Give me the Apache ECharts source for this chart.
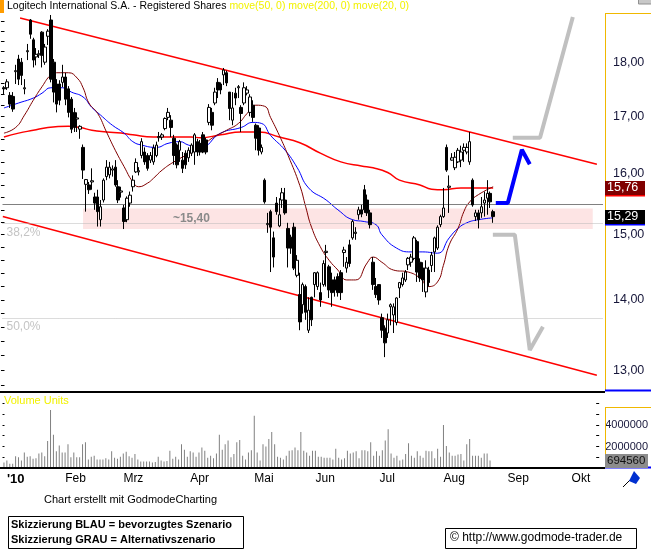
<!DOCTYPE html>
<html>
<head>
<meta charset="utf-8">
<script src="https://cdn.jsdelivr.net/npm/echarts@6/dist/echarts.min.js"></script>
<style>
html, body { margin: 0; padding: 0; background: #fff; }
#chart { width: 651px; height: 557px; }
</style>
</head>
<body>
<div id="chart"></div>
<script>
// daily candles, Logitech 2010
const opens = [
  17.52,17.52,17.38,17.36,17.82,18.06,18.00,17.50,18.20,18.82,
  18.43,18.10,18.14,18.58,18.00,18.50,18.82,18.00,17.59,17.59,
  17.62,17.72,17.50,17.31,17.07,16.95,16.77,16.45,15.82,15.81,
  15.86,15.61,15.61,15.24,15.56,15.95,15.98,16.06,16.11,15.78,
  15.69,15.43,15.24,15.51,15.78,16.03,16.03,16.31,16.37,16.31,
  16.23,16.20,16.31,16.62,16.63,16.78,16.98,16.93,16.61,16.49,
  16.40,16.23,16.35,16.27,16.35,16.37,16.55,16.52,16.67,16.58,
  16.89,17.07,17.24,17.62,17.59,17.76,17.80,17.44,16.93,17.42,
  17.52,17.16,17.24,17.42,17.07,17.20,16.84,16.79,16.37,15.89,
  15.16,15.37,14.95,15.51,15.14,15.56,15.56,15.10,14.96,15.12,
  14.37,14.08,13.93,14.20,13.56,14.04,14.23,14.20,14.11,14.23,
  14.72,14.50,14.30,14.30,14.35,14.41,14.72,14.48,14.84,14.95,
  15.02,15.32,15.40,15.73,15.56,15.35,14.57,14.20,14.23,13.74,
  13.59,13.52,13.90,13.78,13.67,14.18,14.23,14.30,14.53,14.57,
  14.63,14.89,14.57,14.48,14.12,14.45,14.52,14.73,14.79,15.16,
  15.29,16.45,15.77,16.23,16.10,16.20,16.23,16.40,16.37,16.20,
  15.89,15.29,15.35,15.35,15.51,15.59,15.67,15.37
];
const closes = [
  17.50,17.63,17.22,17.13,17.84,17.68,17.75,17.52,18.22,18.54,
  18.04,18.15,18.16,18.13,18.29,18.60,17.68,17.44,17.22,17.29,
  17.72,17.31,17.07,16.77,16.80,16.97,16.82,16.06,15.90,15.73,
  15.88,15.51,15.37,15.45,15.89,16.11,16.11,16.08,15.81,15.56,
  15.71,15.21,15.59,15.64,15.89,16.19,16.05,16.55,16.20,16.09,
  16.31,16.44,16.49,16.64,16.67,16.96,17.07,16.80,16.31,16.15,
  16.55,16.09,16.15,16.40,16.49,16.67,16.37,16.37,16.37,16.37,
  17.16,16.84,17.44,17.48,17.48,17.85,17.61,17.14,17.15,17.33,
  17.54,17.05,17.52,17.48,17.35,16.98,16.61,16.40,16.45,15.53,
  15.18,15.12,14.65,15.37,15.32,15.68,15.35,14.79,14.79,14.48,
  14.60,13.68,14.23,13.82,13.85,13.71,14.41,14.41,14.00,14.55,
  14.74,14.15,14.11,14.15,14.11,14.11,14.76,14.57,14.55,15.21,
  15.04,15.40,15.33,15.40,15.35,15.16,14.23,14.08,14.00,13.56,
  13.38,13.71,13.93,13.90,14.03,14.26,14.33,14.42,14.63,14.65,
  14.95,14.42,14.33,14.30,14.48,14.26,14.68,14.95,15.12,15.29,
  15.43,16.06,15.79,16.27,16.28,16.40,16.37,16.45,16.45,16.55,
  15.48,15.35,15.24,15.45,15.56,15.67,15.53,15.29
];
const highs = [
  17.55,17.68,17.44,17.44,17.95,18.14,18.08,17.68,18.35,18.84,
  18.47,18.27,18.23,18.60,18.35,18.64,18.92,18.06,17.68,17.66,
  17.95,17.80,17.55,17.35,17.15,17.07,16.84,16.50,15.91,15.86,
  16.09,15.68,15.73,15.56,15.92,16.23,16.20,16.14,16.23,15.89,
  15.78,15.48,15.62,15.70,15.97,16.26,16.11,16.61,16.45,16.35,
  16.37,16.50,16.55,16.72,16.70,16.98,17.15,17.02,16.67,16.52,
  16.58,16.37,16.40,16.45,16.52,16.70,16.60,16.58,16.72,16.62,
  17.22,17.15,17.52,17.70,17.62,17.89,17.84,17.44,17.44,17.52,
  17.57,17.20,17.62,17.55,17.40,17.29,16.87,16.84,16.50,15.92,
  15.35,15.40,15.05,15.61,15.59,15.76,15.76,15.19,15.00,15.19,
  14.68,14.41,14.26,14.23,14.04,14.05,14.42,14.43,14.26,14.60,
  14.84,14.53,14.41,14.35,14.40,14.45,14.81,14.65,14.92,15.24,
  15.12,15.45,15.48,15.81,15.65,15.40,14.65,14.33,14.23,13.80,
  13.63,13.80,13.95,13.95,14.04,14.27,14.41,14.45,14.65,14.70,
  14.98,14.92,14.63,14.57,14.60,14.50,14.73,14.97,15.15,15.32,
  15.76,16.50,15.97,16.35,16.37,16.44,16.48,16.52,16.52,16.72,
  15.92,15.40,15.40,15.61,15.70,15.89,15.70,15.40
];
const lows = [
  17.40,17.48,17.15,17.08,17.59,17.57,17.57,17.40,18.04,18.45,
  17.90,17.94,18.08,17.90,17.95,18.33,17.62,17.25,17.07,17.20,
  17.53,17.20,16.98,16.70,16.72,16.72,16.60,15.91,15.37,15.66,
  15.73,15.40,15.13,15.13,15.52,15.89,15.92,15.95,15.78,15.51,
  15.60,15.09,15.20,15.45,15.70,16.01,15.97,16.26,16.15,16.05,
  16.18,16.15,16.28,16.55,16.58,16.75,16.93,16.63,16.15,16.09,
  16.20,16.01,16.08,16.20,16.30,16.15,16.30,16.31,16.35,16.33,
  16.84,16.75,17.20,17.33,17.40,17.57,17.55,16.93,16.84,17.20,
  17.33,16.72,17.20,17.38,17.00,16.90,16.40,16.31,16.33,15.50,
  15.03,14.42,14.49,15.32,15.12,15.43,15.32,14.49,14.70,14.45,
  14.34,13.56,13.80,13.71,13.52,13.62,14.04,14.15,13.90,14.20,
  14.20,14.03,13.90,14.05,14.05,14.00,14.50,14.41,14.50,14.92,
  14.92,15.24,15.28,15.35,15.30,15.10,14.15,14.03,13.93,13.45,
  13.18,13.45,13.63,13.52,13.63,14.03,14.20,14.27,14.45,14.50,
  14.60,14.27,14.27,14.12,14.04,14.20,14.42,14.42,14.76,15.12,
  15.27,16.03,15.35,16.22,16.06,16.18,16.11,16.20,16.33,16.15,
  15.45,15.22,15.10,15.27,15.29,15.32,15.43,15.19
];
// volume in millions of units
const volumesMio = [
  0.5,0.7,0.4,0.4,1.1,1.0,0.7,1.45,1.05,1.1,
  0.85,0.9,1.35,1.45,1.1,2.5,5.4,3.1,1.55,2.1,
  1.45,1.45,2.2,1.0,1.45,1.0,1.0,2.2,2.4,0.8,
  1.05,1.15,0.8,0.8,0.8,0.9,0.8,1.55,0.95,0.85,
  1.05,1.35,1.5,1.1,0.95,1.3,0.8,0.6,0.6,0.6,
  0.6,0.5,0.55,1.05,0.7,0.6,0.65,1.6,0.85,1.05,
  0.8,2.2,1.7,1.05,1.55,1.45,1.05,1.45,1.9,1.6,
  0.95,1.15,0.9,1.35,3.1,1.7,2.2,2.55,1.0,1.3,
  2.4,2.6,1.15,0.8,1.45,1.65,4.85,1.45,0.7,2.2,
  2.0,2.7,3.35,2.2,1.05,0.95,0.8,1.15,1.6,1.65,
  1.9,1.65,3.35,1.6,1.45,1.15,1.6,1.6,1.05,1.05,
  0.95,0.95,0.95,0.8,1.8,0.95,0.8,0.9,1.6,1.35,
  1.45,1.55,0.9,1.65,1.65,1.55,2.4,1.15,1.55,1.15,
  1.65,2.55,3.6,1.35,0.95,1.15,0.7,0.8,1.3,2.3,
  1.15,0.95,1.55,1.15,0.95,1.6,1.55,1.55,0.9,1.8,
  1.05,4.0,2.05,1.45,1.15,1.15,1.25,1.3,0.7,2.2,
  2.7,1.15,1.15,1.15,0.95,1.35,1.35,0.69456
];
// moving averages as [day index, price]
const ma20 = [[0,16.70],[4,16.80],[7,17.02],[10,17.29],[13,17.54],[16,17.76],[18,17.80],[22,17.80],[25,17.70],[27,17.52],[29,17.24],[32,17.05],[35,16.72],[38,16.40],[41,16.12],[44,15.86],[46,15.78],[49,15.84],[51,15.92],[54,16.06],[58,16.20],[62,16.31],[67,16.44],[71,16.61],[76,16.75],[80,16.87],[83,17.05],[86,17.20],[89,17.18],[91,16.98],[94,16.66],[97,16.31],[101,15.80],[103,15.45],[105,15.12],[108,14.81],[111,14.60],[114,14.45],[117,14.30],[120,14.30],[124,14.56],[126,14.65],[129,14.57],[133,14.45],[138,14.42],[142,14.33],[145,14.20],[148,14.27],[150,14.52],[152,14.84],[155,15.10],[157,15.37],[159,15.53],[162,15.65],[167,15.78]];
const ma50 = [[0,17.15],[5,17.24],[10,17.33],[13,17.42],[16,17.52],[20,17.52],[23,17.44],[27,17.35],[30,17.16],[33,17.02],[37,16.84],[41,16.70],[44,16.55],[47,16.49],[52,16.45],[56,16.52],[60,16.55],[63,16.49],[67,16.45],[74,16.70],[81,16.80],[85,16.89],[88,16.87],[91,16.66],[96,16.40],[100,16.11],[104,15.76],[110,15.56],[114,15.40],[119,15.24],[123,15.21],[127,15.16],[129,15.00],[134,14.79],[139,14.73],[143,14.73],[148,14.71],[152,14.95],[155,15.10],[158,15.19],[162,15.24],[167,15.27]];
const ma200 = [[0,16.63],[5,16.70],[10,16.75],[15,16.80],[22,16.82],[26,16.80],[30,16.75],[35,16.72],[40,16.70],[44,16.67],[51,16.63],[58,16.63],[64,16.63],[67,16.62],[74,16.67],[81,16.72],[87,16.72],[94,16.63],[101,16.53],[108,16.35],[115,16.20],[122,16.13],[126,16.10],[131,16.02],[135,15.89],[142,15.81],[146,15.74],[150,15.73],[156,15.76],[163,15.76],[167,15.76]];
// drawn lines, [day index, price]
const channelTop = [[5.5,18.86],[202.4,16.16]];
const channelBottom = [[-0.4,15.29],[202.4,12.93]];
const scenarioBlue = [[167.9,15.51],[172,15.51],[176.8,16.41],[179.5,16.16]];
const scenarioGrayUp = [[173.7,16.62],[183,16.62],[194.2,18.88]];
const scenarioGrayDown = [[166.9,15.00],[174.4,15.00],[179.5,13.28],[184,13.61]];
const supportZone = { top: 15.42, bottom: 15.09, from: 27, to: 201, label: '~15,40', labelAt: [64, 15.26] };
const fibLevels = [[15.13, '38,2%'], [13.70, '50,0%']];
const lastMa = 15.76;
const lastClose = 15.29;
// axes
const priceTicks = [13, 14, 15, 16, 17, 18];
const priceMinorTicks = [12.8,13,13.2,13.4,13.6,13.8,14,14.2,14.4,14.6,14.8,15,15.2,15.4,15.6,15.8,16,16.2,16.4,16.6,16.8,17,17.2,17.4,17.6,17.8,18,18.2,18.4,18.6,18.8];
const priceRange = [12.73, 18.94];
const volumeTicks = [2000000, 4000000];
const volumeMinorTicks = [1000000, 2000000, 3000000, 4000000, 5000000, 6000000];
const volumeMax = 6790000;
const monthNames = ["'10", 'Feb', 'Mrz', 'Apr', 'Mai', 'Jun', 'Jul', 'Aug', 'Sep', 'Okt', 'Nov', 'Dez'];

const N = 205;
const days = [];
let d = new Date(Date.UTC(2010, 0, 4));
while (days.length < N) {
    const wd = d.getUTCDay();
    if (wd !== 0 && wd !== 6) days.push(d.toISOString().slice(0, 10));
    d = new Date(d.getTime() + 86400000);
}

const L = Math.log;
const font = 'Arial, "Liberation Sans", sans-serif';
const toLine = arr => arr.map(p => [p[0], L(p[1])]);
const fmtPrice = v => Math.exp(v).toFixed(2).replace('.', ',');

const chart = echarts.init(document.getElementById('chart'));

function lineSeries(data, color, width, extra) {
    return Object.assign({
        type: 'line', xAxisIndex: 1, yAxisIndex: 0, data: toLine(data),
        showSymbol: false, symbol: 'none', silent: true, animation: false,
        lineStyle: { color: color, width: width }, z: 4
    }, extra || {});
}

const option = {
    animation: false,
    backgroundColor: '#fff',
    title: {
        text: '{a|Logitech International S.A. - Registered Shares}{b| move(50, 0) move(200, 0) move(20, 0)}',
        left: 7, top: 1, padding: 0,
        textStyle: {
            fontWeight: 'normal',
            rich: {
                a: { color: '#000', fontSize: 10.5, fontWeight: 'normal', fontFamily: font },
                b: { color: '#f2f200', fontSize: 10.5, fontWeight: 'normal', fontFamily: font }
            }
        }
    },
    grid: [
        { left: 2.5, right: 48, top: 14, height: 376 },
        { left: 2.5, right: 48, top: 395, height: 73 }
    ],
    xAxis: [
        { type: 'category', gridIndex: 0, data: days, axisLine: { show: false }, axisTick: { show: false }, axisLabel: { show: false } },
        { type: 'value', gridIndex: 0, min: -0.5, max: N - 0.5, show: false },
        {
            type: 'category', gridIndex: 1, data: days,
            axisLine: { show: false }, axisTick: { show: false },
            axisLabel: {
                interval: (i, v) => i === 0 || days[i].slice(5, 7) !== days[i - 1].slice(5, 7),
                formatter: v => {
                    const m = +v.slice(5, 7);
                    return m === 1 ? '{b|' + monthNames[0] + '}' : monthNames[m - 1];
                },
                align: 'left', color: '#000', fontSize: 12, fontFamily: font, margin: 5,
                padding: [0, 0, 0, 3],
                rich: { b: { fontWeight: 'bold', fontSize: 13, color: '#000', fontFamily: font } }
            }
        }
    ],
    yAxis: [
        {
            type: 'value', gridIndex: 0, position: 'right',
            min: L(priceRange[0]), max: L(priceRange[1]),
            splitLine: { show: false }, axisLine: { show: false },
            axisTick: { show: true, inside: true, length: 3, customValues: priceMinorTicks.map(L), lineStyle: { color: '#000' } },
            axisLabel: { customValues: priceTicks.map(L), formatter: fmtPrice, color: '#16163a', fontSize: 12.5, fontFamily: font, margin: 10 }
        },
        {
            type: 'value', gridIndex: 0, position: 'left',
            min: L(priceRange[0]), max: L(priceRange[1]),
            splitLine: { show: false }, axisLine: { show: false }, axisLabel: { show: false },
            axisTick: { show: true, inside: true, length: 2, customValues: priceMinorTicks.map(L), lineStyle: { color: '#000' } }
        },
        {
            type: 'value', gridIndex: 1, position: 'right', min: 0, max: volumeMax,
            splitLine: { show: false }, axisLine: { show: false },
            axisTick: { show: true, inside: true, length: 3, customValues: volumeMinorTicks, lineStyle: { color: '#000' } },
            axisLabel: { customValues: volumeTicks, formatter: v => String(v), color: '#16163a', fontSize: 11, fontFamily: font, margin: 6 }
        },
        {
            type: 'value', gridIndex: 1, position: 'left', min: 0, max: volumeMax,
            splitLine: { show: false }, axisLine: { show: false }, axisLabel: { show: false },
            axisTick: { show: true, inside: true, length: 2, customValues: volumeMinorTicks, lineStyle: { color: '#000' } }
        }
    ],
    series: [
        lineSeries(channelBottom, '#ff0000', 1.5, {
            z: 1,
            markArea: {
                silent: true,
                itemStyle: { color: '#fde4e4' },
                data: [[
                    { xAxis: supportZone.from, yAxis: L(supportZone.top) },
                    { xAxis: supportZone.to, yAxis: L(supportZone.bottom) }
                ]]
            },
            markLine: {
                silent: true, symbol: 'none', animation: false,
                data: [
                    { yAxis: L(supportZone.top), lineStyle: { color: '#808080', type: 'solid', width: 1 }, label: { show: false } }
                ].concat(fibLevels.map(f => ({
                    yAxis: L(f[0]),
                    lineStyle: { color: '#b8b8b8', type: 'dotted', width: 1 },
                    label: { show: true, formatter: f[1], position: 'insideStartBottom', color: '#c4c4c4', fontSize: 12, fontFamily: font, distance: [4, 3] }
                })))
            },
            markPoint: {
                silent: true, symbol: 'circle', symbolSize: 1,
                itemStyle: { color: 'rgba(0,0,0,0)' },
                data: [{
                    coord: [supportZone.labelAt[0], L(supportZone.labelAt[1])],
                    label: { show: true, position: 'inside', formatter: supportZone.label, color: '#8a8a8a', fontWeight: 'bold', fontSize: 12, fontFamily: font }
                }]
            }
        }),
        lineSeries(channelTop, '#ff0000', 1.5, { z: 2 }),
        lineSeries(ma200, '#ff0000', 1.5, { smooth: true }),
        lineSeries(ma50, '#0000ff', 1, { smooth: true }),
        lineSeries(ma20, '#800000', 1, { smooth: true }),
        {
            type: 'candlestick', xAxisIndex: 0, yAxisIndex: 0, z: 5, barWidth: 3,
            data: opens.map((o, i) => [L(o), L(closes[i]), L(lows[i]), L(highs[i])]),
            itemStyle: { color: '#fff', color0: '#000', borderColor: '#000', borderColor0: '#000', borderWidth: 1 }
        },
        lineSeries(scenarioBlue, '#0000ff', 4, { z: 6 }),
        lineSeries(scenarioGrayUp, '#c0c0c0', 4, { z: 6 }),
        lineSeries(scenarioGrayDown, '#c0c0c0', 4, { z: 6 }),
        {
            type: 'bar', xAxisIndex: 2, yAxisIndex: 2, barWidth: 1,
            data: volumesMio.map(v => Math.round(v * 1000000)),
            itemStyle: { color: '#808080' }, silent: true
        }
    ]
};

chart.setOption(option);

const yMa = chart.convertToPixel({ yAxisIndex: 0 }, L(lastMa));
const yClose = chart.convertToPixel({ yAxisIndex: 0 }, L(lastClose));
const lastVol = Math.round(volumesMio[volumesMio.length - 1] * 1000000);
const yVol = chart.convertToPixel({ yAxisIndex: 2 }, lastVol);

const gold = '#f0b800';
function hline(x1, x2, y, color, w) {
    return { type: 'line', shape: { x1: x1, y1: y, x2: x2, y2: y }, style: { stroke: color, lineWidth: w }, silent: true, z: 20 };
}
function vline(x, y1, y2, color, w) {
    return { type: 'line', shape: { x1: x, y1: y1, x2: x, y2: y2 }, style: { stroke: color, lineWidth: w }, silent: true, z: 20 };
}
function txt(x, y, text, size, color, weight) {
    return { type: 'text', x: x, y: y, silent: true, z: 21,
        style: { text: text, fill: color, font: (weight || 'normal') + ' ' + size + 'px ' + font, verticalAlign: 'top', align: 'left' } };
}
function tag(y, text, bg, fg, under, w, size) {
    return [
        { type: 'rect', shape: { x: 605, y: Math.round(y) - 7, width: w, height: 14 }, style: { fill: bg }, silent: true, z: 22 },
        { type: 'text', x: 607, y: Math.round(y), silent: true, z: 23,
          style: { text: text, fill: fg, font: (size || 12) + 'px ' + font, verticalAlign: 'middle', align: 'left' } },
        under ? hline(605, 605 + w, Math.round(y) + 7.5, under, 2) : null
    ].filter(Boolean);
}

chart.setOption({
    graphic: [
        { type: 'rect', shape: { x: 0, y: 0, width: 4, height: 13 }, style: { fill: '#ff9c00' }, silent: true },
        { type: 'rect', shape: { x: 638.5, y: -1, width: 13, height: 5 }, style: { fill: '#c8c8c8', stroke: '#909090' }, silent: true },
        vline(605.5, 13, 390, gold, 1),
        hline(605, 651, 13.5, gold, 1),
        hline(605, 651, 390.5, '#0000ff', 2),
        hline(0, 605, 392, '#000', 2),
        vline(605.5, 407, 467, gold, 1),
        hline(605, 651, 407.5, gold, 1),
        hline(605, 651, 467.5, '#0000ff', 2),
        hline(0, 605, 468, '#000', 2),
        txt(4, 395, 'Volume Units', 11, '#f2f200'),
        txt(44, 494, 'Chart erstellt mit GodmodeCharting', 11, '#000'),
        { type: 'rect', shape: { x: 8.5, y: 516.5, width: 235, height: 32 }, style: { fill: 'none', stroke: '#000', lineWidth: 1 }, silent: true },
        txt(11, 519, 'Skizzierung BLAU = bevorzugtes Szenario', 11, '#000', 'bold'),
        txt(11, 534, 'Skizzierung GRAU = Alternativszenario', 11, '#000', 'bold'),
        { type: 'rect', shape: { x: 445.5, y: 528.5, width: 191, height: 20 }, style: { fill: 'none', stroke: '#000', lineWidth: 1 }, silent: true },
        txt(450, 532, '\u00a9 http://www.godmode-trader.de', 12, '#000'),
        { type: 'line', shape: { x1: 623, y1: 487, x2: 632, y2: 478 }, style: { stroke: '#000', lineWidth: 1 }, silent: true },
        { type: 'polygon', shape: { points: [[634, 471], [640, 478], [636, 484], [629, 481]] }, style: { fill: '#0030d0' }, silent: true }
    ].concat(
        tag(yMa, fmtPrice(L(lastMa)), '#800000', '#fff', '#ff0000', 40, 12.5),
        tag(yClose, fmtPrice(L(lastClose)), '#000', '#fff', '#0000ff', 40, 12.5),
        tag(yVol, String(lastVol), '#8c8c8c', '#111', null, 43, 11.5)
    )
});
</script>
</body>
</html>
